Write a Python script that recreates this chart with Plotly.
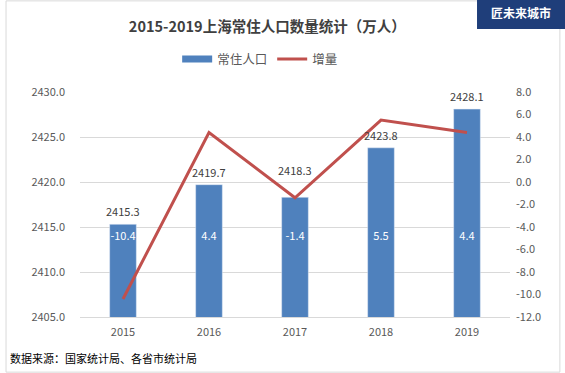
import plotly.graph_objects as go

years = ["2015", "2016", "2017", "2018", "2019"]
population = [2415.3, 2419.7, 2418.3, 2423.8, 2428.1]
increment = [-10.4, 4.4, -1.4, 5.5, 4.4]
left_ticks = [2405, 2410, 2415, 2420, 2425, 2430]
right_ticks = [-12, -10, -8, -6, -4, -2, 0, 2, 4, 6, 8]

BLUE = "#4F81BD"
RED = "#C0504D"
FONT = "Noto Sans CJK SC, Noto Sans, sans-serif"

fig = go.Figure()
fig.add_trace(go.Bar(
    x=years, y=population, name="常住人口", marker_color=BLUE,
    width=0.31, yaxis="y", showlegend=False,
))
# legend swatch for the bars (wide flat rectangle, like the reference)
fig.add_trace(go.Scatter(
    x=[years[0]], y=[None], name="常住人口", mode="lines",
    line=dict(color=BLUE, width=7), yaxis="y", showlegend=True, hoverinfo="skip",
))
fig.add_trace(go.Scatter(
    x=years, y=[2413.9] * len(years), mode="text", text=[f"{v:.1f}" for v in increment],
    textposition="middle center", textfont=dict(size=11, color="white", family=FONT),
    showlegend=False, yaxis="y", hoverinfo="skip",
))
fig.add_trace(go.Scatter(
    x=years, y=increment, name="增量", mode="lines",
    line=dict(color=RED, width=3), yaxis="y2",
))

# the 2017 label sits higher in the reference to clear the line
label_lift = {2: 27}
annotations = [
    dict(
        x=i, y=val, xref="x", yref="y", text=f"{val:.1f}", showarrow=False,
        yanchor="middle", yshift=label_lift.get(i, 13),
        font=dict(size=11, color="#404040", family=FONT),
    )
    for i, val in enumerate(population)
]
annotations += [
    dict(
        text="数据来源：国家统计局、各省市统计局", xref="paper", yref="paper",
        x=-0.167, xanchor="left", y=-0.183, yanchor="middle", showarrow=False,
        font=dict(size=11, color="#000000", family=FONT),
    ),
    dict(
        text="<b>匠未来城市</b>", xref="paper", yref="paper",
        x=1.0256, xanchor="center", y=1.355, yanchor="middle", showarrow=False,
        font=dict(size=12, color="white", family=FONT),
    ),
]

fig.update_layout(
    width=565, height=373,
    margin=dict(l=80, r=55, t=92, b=56, autoexpand=False),
    paper_bgcolor="white", plot_bgcolor="white",
    font=dict(family=FONT, color="#595959", size=11),
    title=dict(
        text="<b>2015-2019上海常住人口数量统计（万人）</b>",
        x=0.473, xanchor="center", y=0.928, yanchor="middle",
        font=dict(size=14.5, color="#404040", family=FONT),
    ),
    legend=dict(
        orientation="h", x=0.419, xanchor="center", y=1.145, yanchor="middle",
        font=dict(size=12.5, color="#595959"), itemwidth=30, tracegroupgap=0,
    ),
    bargap=0.69,
    xaxis=dict(
        type="category", categoryorder="array", categoryarray=years,
        range=[-0.5, len(years) - 0.5],
        showgrid=False, showline=True, linecolor="#D9D9D9", ticks="",
        tickfont=dict(size=11, color="#595959"), ticklabelstandoff=5,
    ),
    yaxis=dict(
        range=[2405, 2430], tickvals=left_ticks,
        ticktext=[f"{v:.1f}" for v in left_ticks],
        showgrid=True, gridcolor="#D9D9D9", zeroline=False, showline=False,
        ticks="", ticklabelstandoff=14,
    ),
    yaxis2=dict(
        range=[-12, 8], tickvals=right_ticks,
        ticktext=[f"{v:.1f}" for v in right_ticks],
        overlaying="y", side="right", showgrid=False, zeroline=False,
        showline=False, ticks="", ticklabelstandoff=5,
    ),
    shapes=[
        dict(
            type="rect", xref="paper", yref="paper", x0=-0.172, x1=1.116, y0=-0.245, y1=1.405,
            line=dict(color="#D9D9D9", width=1), fillcolor="rgba(0,0,0,0)", layer="below",
        ),
        dict(
            type="rect", xref="paper", yref="paper", x0=0.9233, x1=1.13, y0=1.28, y1=1.41,
            line=dict(width=0), fillcolor="#1F3E7A", layer="above",
        ),
    ],
    annotations=annotations,
)

fig.write_html(
    "out.html",
    config={"displayModeBar": False},
    post_script="document.body.style.margin='0';document.body.style.overflow='hidden';",
)
